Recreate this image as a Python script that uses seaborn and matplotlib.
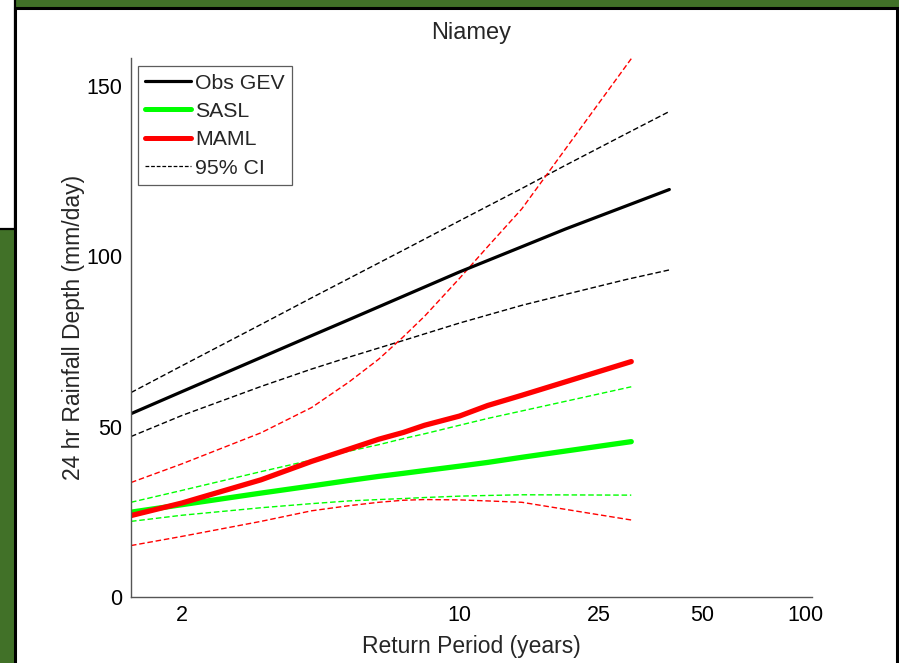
import numpy as np
import pandas as pd
import matplotlib
matplotlib.use("Agg")
import matplotlib.pyplot as plt
from matplotlib.patches import Rectangle
from matplotlib.lines import Line2D
from matplotlib.ticker import FixedLocator, NullLocator
import seaborn as sns

# Return periods (years)
T_obs = [1.6, 2, 3, 4, 5, 7, 10, 15, 20, 30, 40]
T_model = [1.6, 2, 3, 4, 5, 6, 7, 8, 10, 12, 15, 31]

# Observed GEV fit and its 95% confidence bounds (mm/day)
obs_gev = [53.8, 60.3, 70.3, 76.7, 81.4, 88.3, 95.4, 102.8, 108.0, 114.8, 119.6]
obs_hi = [60.0, 67.9, 80.0, 87.8, 93.5, 101.8, 110.4, 119.9, 126.7, 136.0, 142.5]
obs_lo = [47.1, 53.3, 61.8, 66.9, 70.4, 75.3, 80.4, 85.6, 88.8, 93.2, 96.0]

# SASL estimate and bounds
sasl = [24.9, 27.1, 30.5, 32.6, 34.2, 35.4, 36.3, 37.1, 38.4, 39.5, 41.0, 45.6]
sasl_hi = [27.8, 31.3, 36.8, 40.2, 42.8, 44.7, 46.5, 47.9, 50.4, 52.4, 54.6, 61.7]
sasl_lo = [22.2, 24.0, 26.2, 27.4, 28.2, 28.6, 28.9, 29.2, 29.6, 29.8, 30.0, 29.9]

# MAML estimate and bounds
maml = [23.9, 27.6, 34.4, 39.8, 43.4, 46.3, 48.3, 50.4, 53.1, 56.2, 59.2, 69.1]
maml_hi = [33.6, 39.1, 48.2, 55.6, 63.1, 69.8, 76.4, 82.4, 93.5, 102.8, 113.9, 158.0]
maml_lo = [15.1, 17.8, 22.2, 25.3, 26.8, 27.8, 28.4, 28.6, 28.5, 28.2, 27.8, 22.6]

x_ticks = [2, 10, 25, 50, 100]
y_ticks = [0, 50, 100, 150]

sns.set_style("white")
plt.rcParams["font.family"] = ["Liberation Sans", "DejaVu Sans"]


def gumbel_fwd(T):
    T = np.clip(np.asarray(T, dtype=float), 1.0001, None)
    return -np.log(-np.log(1.0 - 1.0 / T))


def gumbel_inv(v):
    v = np.asarray(v, dtype=float)
    return 1.0 / (1.0 - np.exp(-np.exp(-v)))


W, H = 899, 663
fig = plt.figure(figsize=(W / 100, H / 100), dpi=100, facecolor="#417128")


def px_rect(x0, y0, x1, y1, **kw):
    return Rectangle((x0 / W, 1 - y1 / H), (x1 - x0) / W, (y1 - y0) / H,
                     transform=fig.transFigure, **kw)


# slide panel behind the chart
fig.add_artist(px_rect(-5, -5, 14.5, 228.5, facecolor="white",
                       edgecolor="black", linewidth=1.6, zorder=-10))
fig.add_artist(px_rect(15, 8, 896.5, 670, facecolor="white",
                       edgecolor="black", linewidth=2.2, zorder=-9))

ax = fig.add_axes([131 / W, 1 - 597 / H, (812 - 131) / W, (597 - 58) / H])
ax.set_facecolor("none")
ax.set_xscale("function", functions=(gumbel_fwd, gumbel_inv))

obs = pd.DataFrame({"T": T_obs, "gev": obs_gev, "lo": obs_lo, "hi": obs_hi})
mod = pd.DataFrame({"T": T_model, "sasl": sasl, "sasl_lo": sasl_lo,
                    "sasl_hi": sasl_hi, "maml": maml, "maml_lo": maml_lo,
                    "maml_hi": maml_hi})

dash = (4, 2)
ci_lw = 1.0

for col in ["hi", "lo"]:
    sns.lineplot(data=obs, x="T", y=col, ax=ax, color="black", lw=ci_lw,
                 estimator=None, sort=False)
for col in ["sasl_hi", "sasl_lo"]:
    sns.lineplot(data=mod, x="T", y=col, ax=ax, color="#00ff00", lw=ci_lw,
                 estimator=None, sort=False)
for col in ["maml_hi", "maml_lo"]:
    sns.lineplot(data=mod, x="T", y=col, ax=ax, color="#ff0000", lw=ci_lw,
                 estimator=None, sort=False)
for ln in ax.get_lines():
    ln.set_dashes(dash)

sns.lineplot(data=obs, x="T", y="gev", ax=ax, color="black", lw=2.3,
             estimator=None, sort=False)
sns.lineplot(data=mod, x="T", y="sasl", ax=ax, color="#00ff00", lw=3.8,
             estimator=None, sort=False)
sns.lineplot(data=mod, x="T", y="maml", ax=ax, color="#ff0000", lw=3.8,
             estimator=None, sort=False)

ax.set_xlim(1.6, 104.6)
ax.set_ylim(0, 158.2)
ax.xaxis.set_major_locator(FixedLocator(x_ticks))
ax.xaxis.set_minor_locator(NullLocator())
ax.set_xticklabels([str(t) for t in x_ticks])
ax.set_yticks(y_ticks)
ax.set_yticklabels([str(t) for t in y_ticks])

for side in ["top", "right"]:
    ax.spines[side].set_visible(False)
for side in ["left", "bottom"]:
    ax.spines[side].set_color("#555555")
    ax.spines[side].set_linewidth(1.0)
ax.tick_params(direction="in", length=6, width=0.9, color="#555555",
               labelsize=15.5, labelcolor="black", pad=6)

ax.set_xlabel("Return Period (years)", fontsize=16.5, labelpad=6)
ax.set_ylabel("24 hr Rainfall Depth (mm/day)", fontsize=16.5, labelpad=1)
ax.set_title("Niamey", fontsize=17, pad=14)

handles = [
    Line2D([], [], color="black", lw=2.3),
    Line2D([], [], color="#00ff00", lw=3.6),
    Line2D([], [], color="#ff0000", lw=3.6),
    Line2D([], [], color="black", lw=0.9, dashes=(3, 1.5)),
]
leg = ax.legend(handles, ["Obs GEV", "SASL", "MAML", "95% CI"],
                loc="upper left", bbox_to_anchor=(0.0103, 0.985),
                borderaxespad=0, fontsize=15.3, handlelength=2.15,
                handletextpad=0.2, borderpad=0.35, labelspacing=0.44,
                fancybox=False, frameon=True)
leg.get_frame().set_edgecolor("#333333")
leg.get_frame().set_linewidth(0.9)

fig.savefig("out.png", dpi=100, facecolor=fig.get_facecolor())
